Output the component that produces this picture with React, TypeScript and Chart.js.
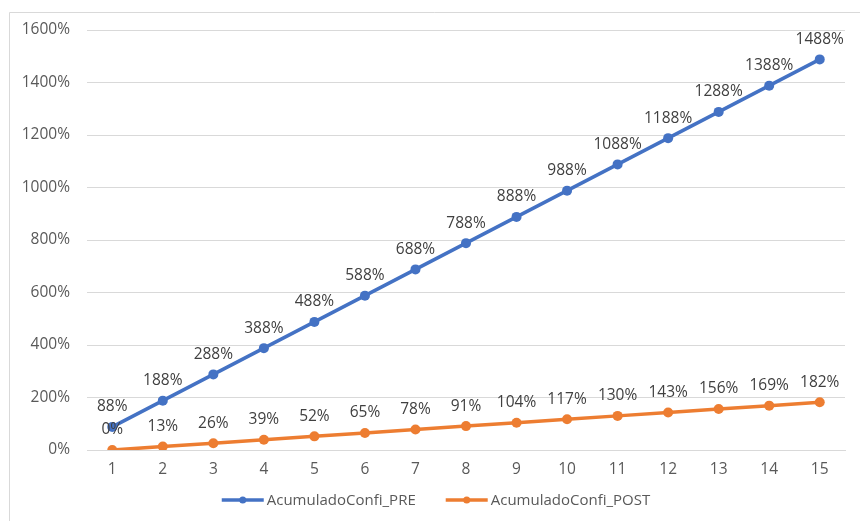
import React, { useEffect, useRef } from "react";
import { Chart, registerables } from "chart.js";

Chart.register(...registerables);

const categories = ["1", "2", "3", "4", "5", "6", "7", "8", "9", "10", "11", "12", "13", "14", "15"];
const prePercent = [88, 188, 288, 388, 488, 588, 688, 788, 888, 988, 1088, 1188, 1288, 1388, 1488];
const postPercent = [0, 13, 26, 39, 52, 65, 78, 91, 104, 117, 130, 143, 156, 169, 182];
const seriesNames = ["AcumuladoConfi_PRE", "AcumuladoConfi_POST"];
const seriesColors = ["#4472C4", "#ED7D31"];

const FONT = "'Open Sans', 'Noto Sans', sans-serif";

const framePlugin = {
  id: "frame",
  beforeDraw(chart: any) {
    const ctx = chart.ctx;
    ctx.save();
    ctx.fillStyle = "#ffffff";
    ctx.fillRect(0, 0, chart.width, chart.height);
    ctx.strokeStyle = "#d9d9d9";
    ctx.lineWidth = 1;
    ctx.beginPath();
    ctx.moveTo(9.5, chart.height);
    ctx.lineTo(9.5, 12.5);
    ctx.lineTo(chart.width, 12.5);
    ctx.stroke();
    ctx.restore();
  },
};

const labelPlugin = {
  id: "pointLabels",
  afterDatasetsDraw(chart: any) {
    const ctx = chart.ctx;
    ctx.save();
    ctx.font = `15.5px ${FONT}`;
    ctx.fillStyle = "#404040";
    ctx.textAlign = "center";
    ctx.textBaseline = "middle";
    chart.data.datasets.forEach((ds: any, i: number) => {
      const meta = chart.getDatasetMeta(i);
      meta.data.forEach((pt: any, j: number) => {
        ctx.fillText(`${ds.data[j]}%`, pt.x, pt.y - 20);
      });
    });
    ctx.restore();
  },
};

const legendPlugin = {
  id: "customLegend",
  afterDraw(chart: any) {
    const ctx = chart.ctx;
    ctx.save();
    ctx.font = `15px ${FONT}`;
    ctx.textBaseline = "middle";
    ctx.textAlign = "left";
    const y = 500;
    const lineLen = 42;
    const gap = 3;
    const itemGap = 30;
    const items = chart.data.datasets.map((ds: any) => ({
      label: ds.label,
      color: ds.borderColor,
      w: lineLen + gap + ctx.measureText(ds.label).width,
    }));
    const total = items.reduce((s: number, it: any) => s + it.w, 0) + itemGap * (items.length - 1);
    let x = 436 - total / 2;
    items.forEach((it: any) => {
      ctx.strokeStyle = it.color;
      ctx.lineWidth = 3.5;
      ctx.beginPath();
      ctx.moveTo(x, y);
      ctx.lineTo(x + lineLen, y);
      ctx.stroke();
      ctx.fillStyle = it.color;
      ctx.beginPath();
      ctx.arc(x + lineLen / 2, y, 3.5, 0, Math.PI * 2);
      ctx.fill();
      ctx.fillStyle = "#595959";
      ctx.fillText(it.label, x + lineLen + gap, y + 1);
      x += it.w + itemGap;
    });
    ctx.restore();
  },
};

export default function App() {
  const ref = useRef<HTMLCanvasElement | null>(null);

  useEffect(() => {
    if (!ref.current) return;
    const chart = new Chart(ref.current, {
      type: "line",
      data: {
        labels: categories,
        datasets: [
          {
            label: seriesNames[0],
            data: prePercent,
            borderColor: seriesColors[0],
            backgroundColor: seriesColors[0],
            borderWidth: 3.5,
            pointRadius: 5,
            pointBorderWidth: 0,
            tension: 0,
          },
          {
            label: seriesNames[1],
            data: postPercent,
            borderColor: seriesColors[1],
            backgroundColor: seriesColors[1],
            borderWidth: 3.5,
            pointRadius: 5,
            pointBorderWidth: 0,
            tension: 0,
          },
        ],
      },
      options: {
        animation: false,
        responsive: false,
        layout: { padding: { top: 30, right: 15, bottom: 41, left: 0 } },
        plugins: {
          legend: { display: false },
          tooltip: { enabled: false },
        },
        scales: {
          x: {
            offset: true,
            grid: { display: false, drawTicks: false },
            border: { color: "#d9d9d9", width: 1 },
            ticks: { color: "#595959", font: { family: FONT, size: 15.5 }, padding: 10 },
            afterFit: (s: any) => {
              s.height = 30;
            },
          },
          y: {
            min: 0,
            max: 1600,
            grid: { color: "#d9d9d9", drawTicks: false },
            border: { display: false },
            ticks: {
              stepSize: 200,
              color: "#595959",
              font: { family: FONT, size: 15.5 },
              padding: 17,
              callback: (v: any) => `${v}%`,
            },
            afterFit: (s: any) => {
              s.width = 87;
            },
          },
        },
      },
      plugins: [framePlugin, labelPlugin, legendPlugin],
    });
    return () => chart.destroy();
  }, []);

  return (
    <div style={{ position: "absolute", left: 0, top: 0, width: 860, height: 521 }}>
      <canvas ref={ref} width={860} height={521} style={{ display: "block" }} />
    </div>
  );
}
